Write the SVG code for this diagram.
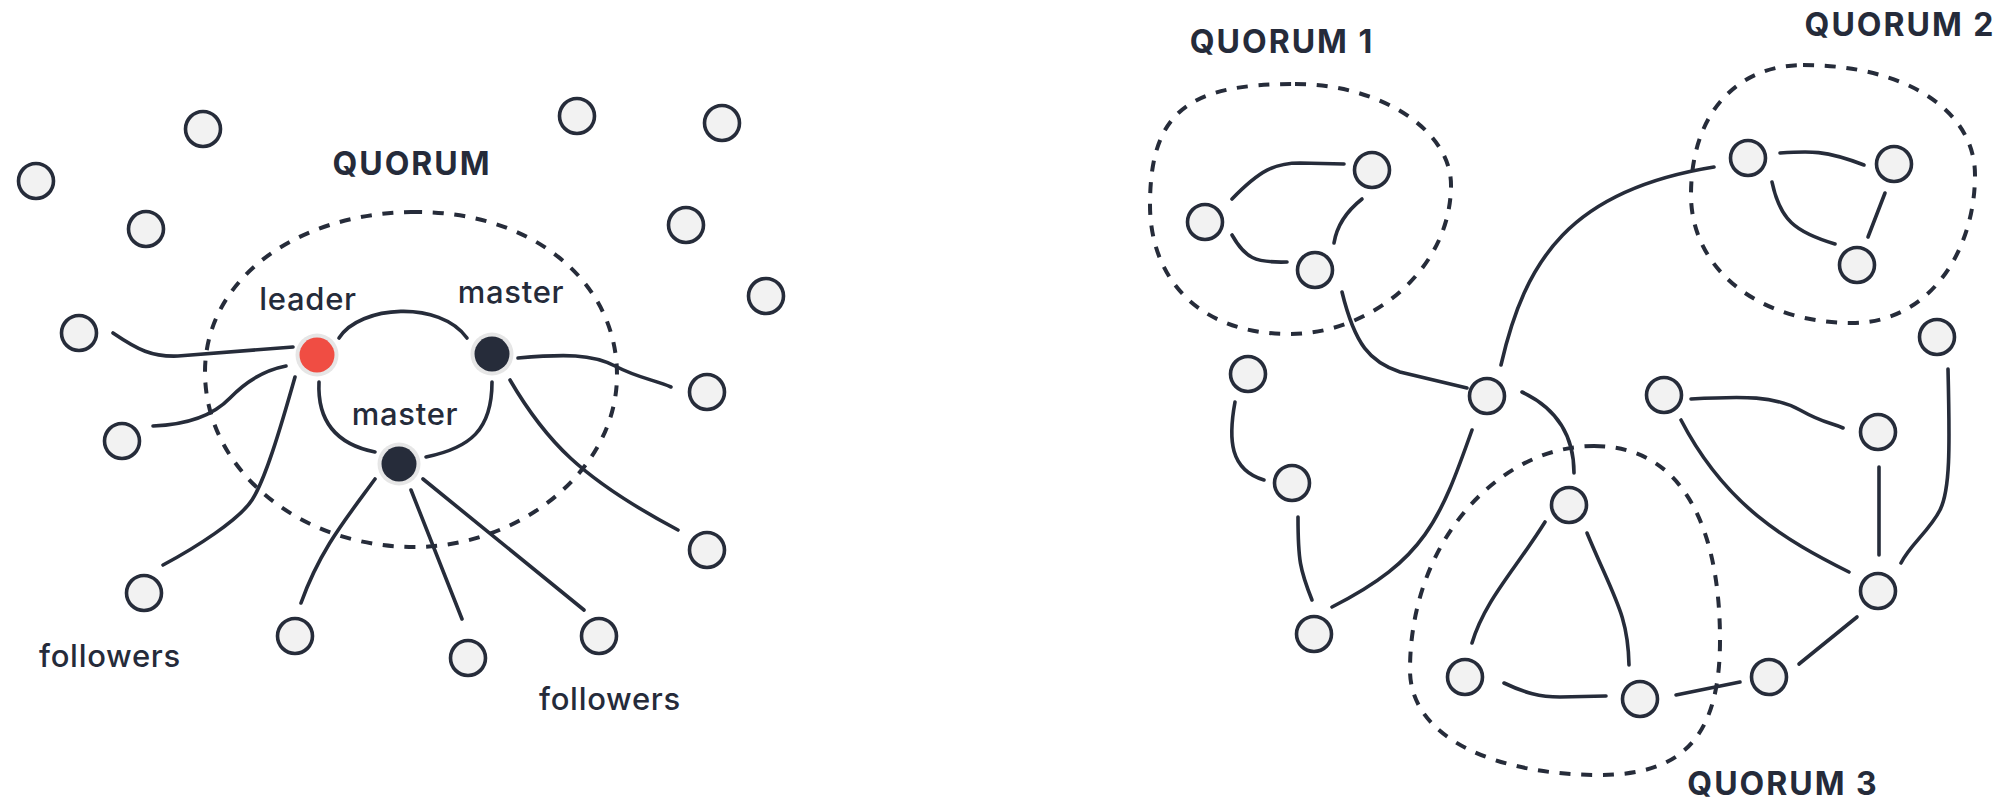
<svg xmlns="http://www.w3.org/2000/svg" width="1998" height="800" viewBox="0 0 1998 800">
  <style>
    .node { fill: #f2f2f2; stroke: #262c3a; stroke-width: 3.6; }
    .edge { fill: none; stroke: #262c3a; stroke-width: 3.6; stroke-linecap: round; }
    .quorum { fill: none; stroke: #262c3a; stroke-width: 4; stroke-dasharray: 11 10.7; }
    .lbl { font-family: Inter, "Noto Sans", sans-serif; font-size: 31px; font-weight: 500; fill: #252b3a; text-anchor: middle; letter-spacing: 0.7px; }
    .title { font-family: Inter, "Noto Sans", sans-serif; font-size: 32px; font-weight: 700; fill: #252b3a; text-anchor: middle; letter-spacing: 2px; }
    .halo { fill: #e6e6e6; }
  </style>
  <rect width="1998" height="800" fill="#ffffff"/>

  <!-- quorum boundaries -->
  <g id="quorums">
    <path class="quorum" d="M411,212 C530,210 617,280 617,375 C617,470 520,547 414,547 C300,547 205,470 205,372 C205,280 295,214 411,212 Z"/>
    <path class="quorum" d="M1295,84 C1380,84 1451,130 1451,185 C1451,270 1370,334 1290,334 C1195,334 1150,275 1150,205 C1150,110 1190,84 1295,84 Z"/>
    <path class="quorum" d="M1803,65 C1905,65 1975,110 1975,175 C1975,250 1930,323 1852,323 C1760,323 1691,270 1691,195 C1691,110 1740,65 1803,65 Z"/>
    <path class="quorum" d="M1594,446 C1690,446 1720,540 1720,640 C1720,740 1680,775 1599,775 C1500,775 1410,740 1410,670 C1410,540 1500,446 1594,446 Z"/>
  </g>

  <!-- connectors -->
  <g id="connectors">
    <!-- single quorum -->
    <path class="edge" d="M113,333 C138,350 152,357 178,356 L293,347"/>
    <path class="edge" d="M153,426 Q205,424 230,398 T286,366"/>
    <path class="edge" d="M295,377 C280,430 265,480 252,500 S195,548 163,565"/>
    <path class="edge" d="M339,338 C360,305 440,300 467,338"/>
    <path class="edge" d="M319,382 C317,425 340,445 375,452"/>
    <path class="edge" d="M492,382 C492,430 470,448 426,457"/>
    <path class="edge" d="M518,358 C565,354 592,354 615,366 S655,380 671,387"/>
    <path class="edge" d="M510,380 C545,440 580,478 678,530"/>
    <path class="edge" d="M375,479 C345,520 320,550 301,603"/>
    <path class="edge" d="M411,490 L462,619"/>
    <path class="edge" d="M423,479 L584,610"/>

    <!-- multiple quorums -->
    <path class="edge" d="M1232,199 C1260,170 1275,163 1300,163 L1344,164"/>
    <path class="edge" d="M1232,235 C1245,258 1255,263 1287,262"/>
    <path class="edge" d="M1362,199 Q1338,218 1334,243"/>
    <path class="edge" d="M1342,292 C1355,345 1370,362 1400,372 L1467,388"/>
    <path class="edge" d="M1501,365 C1525,260 1570,190 1714,167"/>
    <path class="edge" d="M1780,153 C1810,151 1825,150 1864,165"/>
    <path class="edge" d="M1772,182 C1780,220 1795,232 1835,244"/>
    <path class="edge" d="M1885,193 L1868,237"/>
    <path class="edge" d="M1948,369 C1950,450 1950,490 1940,510 S1910,545 1901,563"/>
    <path class="edge" d="M1522,392 C1560,410 1574,440 1574,473"/>
    <path class="edge" d="M1472,430 C1440,520 1425,560 1332,607"/>
    <path class="edge" d="M1235,402 C1228,440 1230,470 1264,480"/>
    <path class="edge" d="M1298,517 C1298,560 1300,570 1312,600"/>
    <path class="edge" d="M1691,399 C1745,396 1775,396 1800,410 S1830,422 1843,428"/>
    <path class="edge" d="M1681,420 C1725,505 1785,540 1849,572"/>
    <path class="edge" d="M1879,467 L1879,555"/>
    <path class="edge" d="M1857,617 L1799,664"/>
    <path class="edge" d="M1740,682 L1676,695"/>
    <path class="edge" d="M1606,696 L1560,697 C1540,697 1525,693 1504,683"/>
    <path class="edge" d="M1545,522 C1515,570 1485,600 1472,643"/>
    <path class="edge" d="M1587,533 C1615,600 1628,615 1629,665"/>
  </g>

  <!-- single quorum nodes -->
  <g id="n1"><circle class="node" cx="36" cy="181" r="17.5"/></g>
  <g id="n2"><circle class="node" cx="203" cy="129" r="17.5"/></g>
  <g id="n3"><circle class="node" cx="146" cy="229" r="17.5"/></g>
  <g id="n4"><circle class="node" cx="79" cy="333" r="17.5"/></g>
  <g id="n5"><circle class="node" cx="122" cy="441" r="17.5"/></g>
  <g id="n6"><circle class="node" cx="577" cy="116" r="17.5"/></g>
  <g id="n7"><circle class="node" cx="722" cy="123" r="17.5"/></g>
  <g id="n8"><circle class="node" cx="686" cy="225" r="17.5"/></g>
  <g id="n9"><circle class="node" cx="766" cy="296" r="17.5"/></g>
  <g id="n10"><circle class="node" cx="707" cy="392" r="17.5"/></g>
  <g id="n11"><circle class="node" cx="707" cy="550" r="17.5"/></g>
  <g id="n12"><circle class="node" cx="144" cy="593" r="17.5"/></g>
  <g id="n13"><circle class="node" cx="295" cy="636" r="17.5"/></g>
  <g id="n14"><circle class="node" cx="468" cy="658" r="17.5"/></g>
  <g id="n15"><circle class="node" cx="599" cy="636" r="17.5"/></g>
  <g id="leader">
    <circle class="halo" cx="317" cy="355" r="21.5"/>
    <circle cx="317" cy="355" r="17.5" fill="#f04d43"/>
  </g>
  <g id="master-a">
    <circle class="halo" cx="492" cy="354" r="21.5"/>
    <circle cx="492" cy="354" r="17.5" fill="#262c3a"/>
  </g>
  <g id="master-b">
    <circle class="halo" cx="399" cy="464" r="21.5"/>
    <circle cx="399" cy="464" r="17.5" fill="#262c3a"/>
  </g>

  <!-- multiple quorum nodes -->
  <g id="q1-a"><circle class="node" cx="1205" cy="222" r="17.5"/></g>
  <g id="q1-b"><circle class="node" cx="1372" cy="170" r="17.5"/></g>
  <g id="q1-c"><circle class="node" cx="1315" cy="270" r="17.5"/></g>
  <g id="q2-a"><circle class="node" cx="1748" cy="158" r="17.5"/></g>
  <g id="q2-b"><circle class="node" cx="1894" cy="164" r="17.5"/></g>
  <g id="q2-c"><circle class="node" cx="1857" cy="265" r="17.5"/></g>
  <g id="r1"><circle class="node" cx="1937" cy="337" r="17.5"/></g>
  <g id="r2"><circle class="node" cx="1248" cy="374" r="17.5"/></g>
  <g id="r3"><circle class="node" cx="1487" cy="396" r="17.5"/></g>
  <g id="r4"><circle class="node" cx="1664" cy="395" r="17.5"/></g>
  <g id="r5"><circle class="node" cx="1878" cy="432" r="17.5"/></g>
  <g id="r6"><circle class="node" cx="1292" cy="483" r="17.5"/></g>
  <g id="q3-a"><circle class="node" cx="1569" cy="505" r="17.5"/></g>
  <g id="r7"><circle class="node" cx="1878" cy="591" r="17.5"/></g>
  <g id="r8"><circle class="node" cx="1314" cy="634" r="17.5"/></g>
  <g id="q3-b"><circle class="node" cx="1465" cy="677" r="17.5"/></g>
  <g id="q3-c"><circle class="node" cx="1640" cy="699" r="17.5"/></g>
  <g id="r9"><circle class="node" cx="1769" cy="677" r="17.5"/></g>

  <!-- labels -->
  <g id="labels">
    <text class="title" x="412" y="175">QUORUM</text>
    <text class="lbl" x="308" y="310">leader</text>
    <text class="lbl" x="511" y="303">master</text>
    <text class="lbl" x="405" y="425">master</text>
    <text class="lbl" x="110" y="667">followers</text>
    <text class="lbl" x="610" y="710">followers</text>
    <text class="title" x="1282" y="53">QUORUM 1</text>
    <text class="title" x="1900" y="36">QUORUM 2</text>
    <text class="title" x="1783" y="795">QUORUM 3</text>
  </g>
</svg>
